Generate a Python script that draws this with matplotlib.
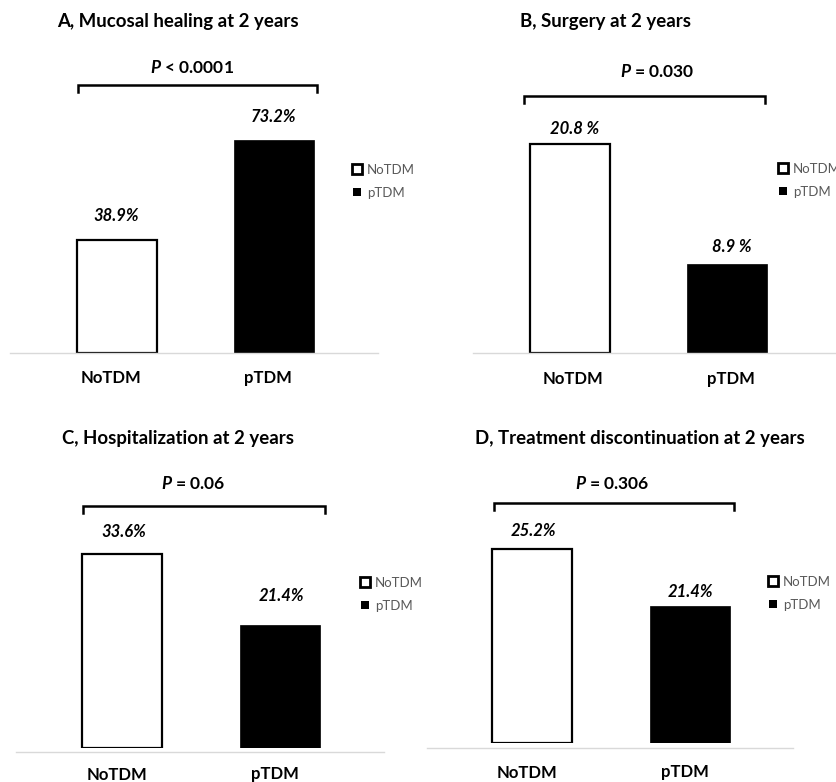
#!/usr/bin/env python
# four small bar panels, NoTDM vs pTDM

import numpy as np
import matplotlib as mpl
import matplotlib.pyplot as plt
from matplotlib.lines import Line2D

plt.rcParams['font.family'] = ['Lato', 'DejaVu Sans']
plt.rcParams['mathtext.fontset'] = 'custom'
plt.rcParams['mathtext.it'] = 'Lato:bold:italic'

groups = ['NoTDM', 'pTDM']
titles = ['A, Mucosal healing at 2 years',
          'B, Surgery at 2 years',
          'C, Hospitalization at 2 years',
          'D, Treatment discontinuation at 2 years']
p_texts = [r'$P$ < 0.0001', r'$P$ = 0.030', r'$P$ = 0.06', r'$P$ = 0.306']
notdm = [38.9, 20.8, 33.6, 25.2]
ptdm = [73.2, 8.9, 21.4, 21.4]
value_fmt = ['{:.1f}%', '{:.1f} %', '{:.1f}%', '{:.1f}%']

W, H = 836, 782
fig = plt.figure(figsize=(W/100, H/100), dpi=100)
pix = mpl.transforms.Affine2D().scale(1/100., -1/100.).translate(0, H/100.) + fig.dpi_scale_trans

# layout in pixels, one dict per panel
layout = [
    dict(c0=116.5, ybot=353, scale=2.91, floor=0.0, base=(10, 378), gap=0,
         title=(178, 20), ptxt=(192, 66), brk=(78, 317, 85), leg=(351, 164),
         vdy=(25, 24), vdx=0, cdy=24, cdx=-6),
    dict(c0=569.5, ybot=353, scale=10.05, floor=0.0, base=(473, 836), gap=0,
         title=(606, 20), ptxt=(657, 70), brk=(524, 765, 96), leg=(777, 163),
         vdy=(16, 18), vdx=5, cdy=25, cdx=4),
    dict(c0=122, ybot=748, scale=5.76, floor=0.0, base=(16, 384), gap=4,
         title=(178, 437), ptxt=(193, 482), brk=(83, 325, 506), leg=(359, 577),
         vdy=(24, 30), vdx=2, cdy=25, cdx=-5),
    dict(c0=532, ybot=743, scale=15.0, floor=12.27, base=(427, 793), gap=5,
         title=(640, 437), ptxt=(612, 482), brk=(494, 734, 503), leg=(767, 576),
         vdy=(20, 16), vdx=1, cdy=28, cdx=-5),
]

step = 157.5   # px between the two bar centres
bw = 80/step

for k, L in enumerate(layout):
    top = L['ybot'] - 260
    left, right = L['base']
    ax = fig.add_axes([left/W, 1-L['ybot']/H, (right-left)/W, (L['ybot']-top)/H])
    ax.set_xlim((left-L['c0'])/step, (right-L['c0'])/step)
    ax.set_ylim(L['floor'], L['floor'] + (L['ybot']-top)/L['scale'])
    for s in ['top', 'left', 'right']:
        ax.spines[s].set_visible(False)
    ax.spines['bottom'].set_color('#d9d9d9')
    ax.spines['bottom'].set_linewidth(1.0)
    ax.spines['bottom'].set_position(('outward', L['gap']*0.72))
    ax.set_xticks([])
    ax.set_yticks([])
    ax.patch.set_alpha(0)

    vals = [notdm[k], ptdm[k]]
    x = np.arange(2)
    ax.bar(x[0], vals[0]-L['floor'], bottom=L['floor'], width=bw, color='white',
           edgecolor='black', linewidth=1.6, label=groups[0])
    ax.bar(x[1], vals[1]-L['floor'], bottom=L['floor'], width=bw, color='black',
           edgecolor='black', linewidth=0.5, label=groups[1])

    for i in range(2):
        ax.annotate(value_fmt[k].format(vals[i]), xy=(x[i], vals[i]),
                    xytext=(L['vdx']*0.72, L['vdy'][i]*0.72), textcoords='offset points',
                    ha='center', va='center_baseline', fontsize=12, fontweight='bold',
                    fontstyle='italic', annotation_clip=False)
        ax.annotate(groups[i], xy=(x[i], L['floor']),
                    xytext=(L['cdx']*0.72, -L['cdy']*0.72), textcoords='offset points',
                    ha='center', va='center_baseline', fontsize=12, fontweight='bold',
                    annotation_clip=False)

    fig.text(L['title'][0], L['title'][1], titles[k], transform=pix, ha='center',
             va='center_baseline', fontsize=13.4, fontweight='bold')
    fig.text(L['ptxt'][0], L['ptxt'][1], p_texts[k], transform=pix, ha='center',
             va='center_baseline', fontsize=12.5, fontweight='bold')

    bx0, bx1, by = L['brk']
    fig.add_artist(Line2D([bx0, bx0, bx1, bx1], [by+7, by, by, by+7], transform=pix,
                          color='black', lw=1.8, solid_joinstyle='miter'))

    handles = [Line2D([], [], ls='none', marker='s', markersize=6.5, mfc='white',
                      mec='black', mew=2.0),
               Line2D([], [], ls='none', marker='s', markersize=6, mfc='black',
                      mec='black', mew=0)]
    lx, ly = L['leg']
    fig.legend(handles, groups, loc='upper left',
               bbox_to_anchor=(lx/W, 1-ly/H), bbox_transform=fig.transFigure,
               frameon=False, fontsize=9.5, labelcolor='#595959', borderpad=0,
               borderaxespad=0, handlelength=0.9, handletextpad=0.3, labelspacing=0.8)

fig.savefig('out.png', dpi=100)
